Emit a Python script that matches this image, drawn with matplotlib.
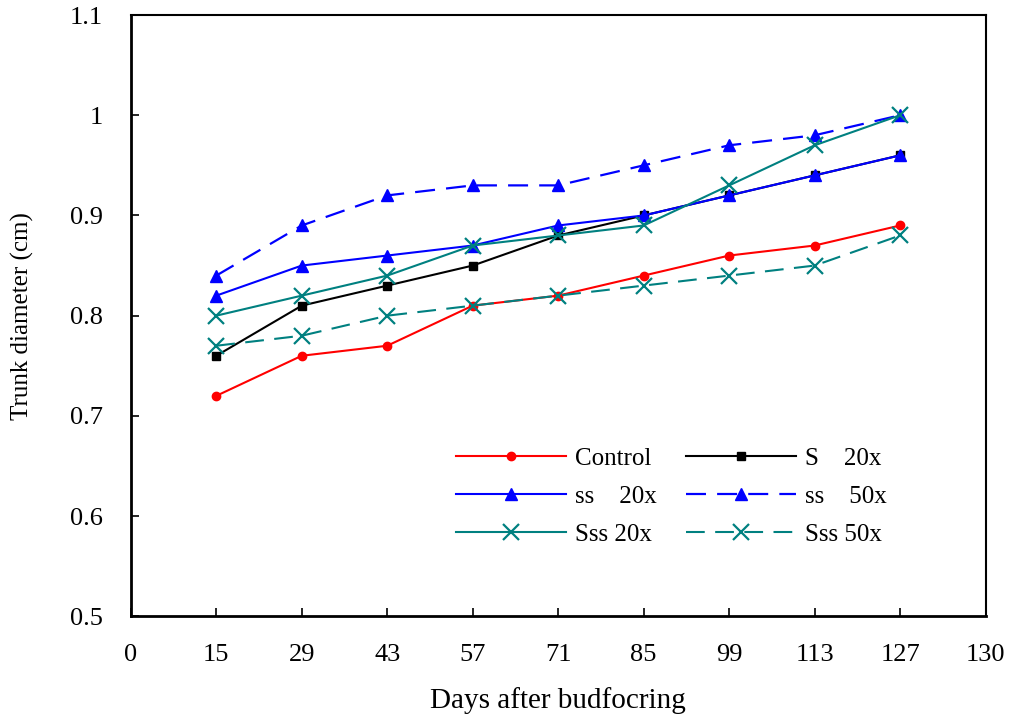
import matplotlib
matplotlib.use('Agg')
import matplotlib.pyplot as plt

days = ['0', '15', '29', '43', '57', '71', '85', '99', '113', '127', '130']
y_ticks = [0.5, 0.6, 0.7, 0.8, 0.9, 1.0, 1.1]
y_tick_labels = ['0.5', '0.6', '0.7', '0.8', '0.9', '1', '1.1']

control = [0.72, 0.76, 0.77, 0.81, 0.82, 0.84, 0.86, 0.87, 0.89]
s_20x = [0.76, 0.81, 0.83, 0.85, 0.88, 0.90, 0.92, 0.94, 0.96]
ss_20x = [0.82, 0.85, 0.86, 0.87, 0.89, 0.90, 0.92, 0.94, 0.96]
ss_50x = [0.84, 0.89, 0.92, 0.93, 0.93, 0.95, 0.97, 0.98, 1.00]
sss_20x = [0.80, 0.82, 0.84, 0.87, 0.88, 0.89, 0.93, 0.97, 1.00]
sss_50x = [0.77, 0.78, 0.80, 0.81, 0.82, 0.83, 0.84, 0.85, 0.88]

plt.rcParams['font.family'] = ['Liberation Serif', 'DejaVu Serif']

fig = plt.figure(figsize=(10.14, 7.15), dpi=100)
ax = fig.add_axes([0.129, 0.138, 0.843, 0.841])

x = list(range(1, 10))
teal = '#008080'
dash = (0, (9, 5))

h1, = ax.plot(x, control, color='red', lw=1.5, marker='o', ms=6, label='Control')
h2, = ax.plot(x, s_20x, color='black', lw=1.5, marker='s', ms=6, label='S    20x')
h3, = ax.plot(x, ss_20x, color='blue', lw=1.5, marker='^', ms=9, label='ss    20x')
h4, = ax.plot(x, ss_50x, color='blue', lw=1.6, ls=dash, marker='^', ms=9, label='ss    50x')
h5, = ax.plot(x, sss_20x, color=teal, lw=1.5, marker='x', ms=11, mew=1.6, label='Sss 20x')
h6, = ax.plot(x, sss_50x, color=teal, lw=1.5, ls=dash, marker='x', ms=11, mew=1.6, label='Sss 50x')

ax.set_xlim(0, 10)
ax.set_ylim(0.5, 1.1)
ax.set_xticks(range(len(days)))
ax.set_xticklabels(days)
ax.set_yticks(y_ticks)
ax.set_yticklabels(y_tick_labels)
ax.tick_params(direction='in', length=6, width=1.2, labelsize=19)
ax.tick_params(axis='y', pad=20)
ax.tick_params(axis='x', pad=20)

for side in ['left', 'bottom']:
    ax.spines[side].set_linewidth(2)
for side in ['top', 'right']:
    ax.spines[side].set_linewidth(1.5)

ax.set_xlabel('Days after budfocring', fontsize=21)
ax.set_ylabel('Trunk diameter (cm)', fontsize=18)
ax.xaxis.set_label_coords(0.5, -0.117)
ax.yaxis.set_label_coords(-0.113, 0.5)

ax.legend([h1, h3, h5, h2, h4, h6],
          [h.get_label() for h in [h1, h3, h5, h2, h4, h6]],
          ncol=2, frameon=False, fontsize=18, loc='upper left',
          bbox_to_anchor=(0.354, 0.318), handlelength=4.4,
          columnspacing=1.2, handletextpad=0.35, labelspacing=0.62)

fig.savefig('out.png', dpi=100)
